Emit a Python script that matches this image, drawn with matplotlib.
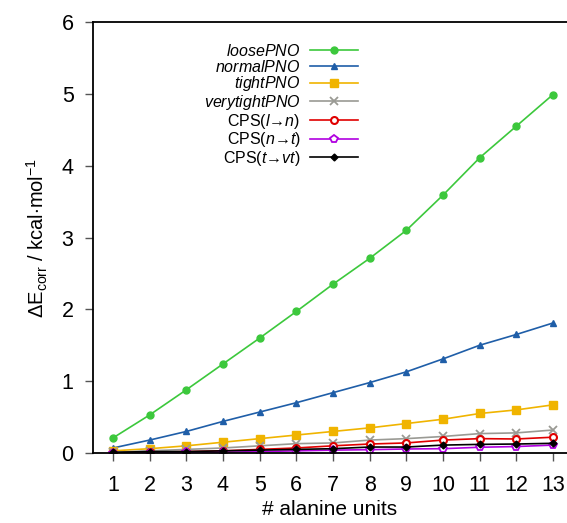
import numpy as np
import matplotlib
matplotlib.use("Agg")
import matplotlib.pyplot as plt

plt.rcParams['font.family'] = ['Liberation Sans', 'DejaVu Sans']
plt.rcParams['mathtext.fontset'] = 'custom'
plt.rcParams['mathtext.rm'] = 'Liberation Sans'
plt.rcParams['mathtext.it'] = 'Liberation Sans:italic'

units = np.arange(1, 14)

loose = [0.21, 0.53, 0.88, 1.24, 1.60, 1.97, 2.35, 2.71, 3.10, 3.59, 4.11, 4.55, 4.99]
normal = [0.07, 0.18, 0.30, 0.44, 0.57, 0.70, 0.84, 0.98, 1.13, 1.31, 1.50, 1.65, 1.81]
tight = [0.03, 0.06, 0.10, 0.15, 0.20, 0.25, 0.30, 0.35, 0.41, 0.47, 0.55, 0.60, 0.67]
verytight = [0.01, 0.03, 0.05, 0.07, 0.10, 0.13, 0.14, 0.18, 0.20, 0.23, 0.27, 0.28, 0.32]
cps_ln = [0.00, 0.01, 0.02, 0.03, 0.05, 0.07, 0.10, 0.125, 0.14, 0.18, 0.20, 0.195, 0.22]
cps_nt = [0.00, 0.00, 0.01, 0.01, 0.02, 0.03, 0.04, 0.046, 0.056, 0.06, 0.08, 0.09, 0.11]
cps_tvt = [0.01, 0.02, 0.02, 0.03, 0.04, 0.05, 0.06, 0.083, 0.083, 0.11, 0.12, 0.125, 0.135]

labels = [r'$\mathit{loosePNO}$', r'$\mathit{normalPNO}$', r'$\mathit{tightPNO}$',
          r'$\mathit{verytightPNO}$', r'CPS($\mathit{l}$→$\mathit{n}$)',
          r'CPS($\mathit{n}$→$\mathit{t}$)', r'CPS($\mathit{t}$→$\mathit{vt}$)']

fig = plt.figure(figsize=(5.67, 5.23), dpi=100)
ax = fig.add_axes([93 / 567, 70 / 523, 1 - 93 / 567, 431 / 523])

ax.plot(units, loose, color='#3cc83c', marker='o', ms=5, lw=1.2, label=labels[0])
ax.plot(units, normal, color='#1f5ea8', marker='^', ms=4.5, lw=1.2, label=labels[1])
ax.plot(units, tight, color='#f0b400', marker='s', ms=6, lw=1.2, label=labels[2])
ax.plot(units, verytight, color='#9a9a94', marker='x', ms=6, mew=1.3, lw=1.2, label=labels[3])
ax.plot(units, cps_ln, color='#e00000', marker='o', ms=5, mfc='white', mew=1.5, lw=1.2, label=labels[4])
ax.plot(units, cps_nt, color='#b000e0', marker='p', ms=5.5, mfc='white', mew=1.3, lw=1.2, label=labels[5])
ax.plot(units, cps_tvt, color='black', marker='D', ms=3.5, lw=1.2, label=labels[6])

ax.set_xlim(1 - 20 / 36.67, 13 + 14 / 36.67)
ax.set_ylim(0, 6)
ax.set_xticks(units)
ax.set_yticks(range(0, 7))
ax.spines['right'].set_visible(False)
for s in ['left', 'bottom', 'top']:
    ax.spines[s].set_linewidth(1.3)
ax.tick_params(direction='out', length=6, width=1, color='#555555', labelsize=15.5)
ax.tick_params(axis='x', pad=10)
ax.tick_params(axis='y', pad=8)

ax.set_xlabel('# alanine units', fontsize=15, labelpad=3)
ax.set_ylabel(r'$\Delta$E$_{\mathrm{corr}}$ / kcal$\cdot$mol$^{-1}$', fontsize=14.5, labelpad=8)

ax.legend(loc='upper right', bbox_to_anchor=(358 / 567, 1 - 43 / 523), bbox_transform=fig.transFigure,
          frameon=False, markerfirst=False, fontsize=11.5, handlelength=3.0, handletextpad=0.6,
          labelspacing=-0.02, borderpad=0, borderaxespad=0)

fig.savefig('out.png', dpi=100)
